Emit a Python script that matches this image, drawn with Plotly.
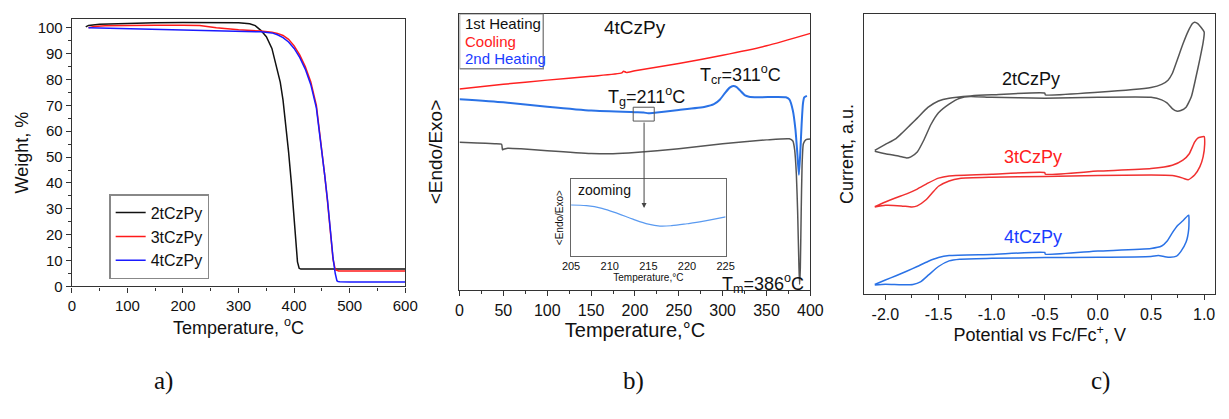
import plotly.graph_objects as go

W, H = 1229, 419
FONT = "Liberation Sans, Arial, sans-serif"


def fx(x):
    return x / W


def fy(y):
    return 1 - y / H


# ---------------- a) TGA ----------------
tga_2t_T = [25, 30, 50, 100, 150, 200, 250, 300, 320, 330, 340, 350, 360, 367, 375, 380, 385,
            390, 395, 400, 403, 406, 409, 412, 420, 450, 500, 550, 600]
tga_2t_W = [100.3, 100.9, 101.3, 101.7, 101.9, 102.0, 102.0, 101.9, 101.5, 100.8, 99.0, 96.5,
            92.0, 85.5, 79.0, 72.0, 63.0, 52.0, 40.0, 26.0, 17.0, 9.5, 7.0, 6.7, 6.7, 6.7, 6.7,
            6.7, 6.7]

tga_3t_T = [30, 40, 60, 100, 150, 200, 230, 260, 300, 340, 360, 370, 380, 390, 400, 410, 420,
            430, 440, 445, 450, 455, 460, 465, 470, 474, 477, 480, 500, 550, 600]
tga_3t_W = [100.0, 100.5, 100.8, 101.0, 101.0, 101.0, 100.9, 100.0, 99.2, 98.7, 98.3, 97.8,
            97.0, 95.5, 93.0, 89.5, 85.0, 79.0, 70.0, 61.0, 52.5, 43.0, 33.0, 21.0, 10.5, 6.5,
            6.1, 6.0, 6.0, 6.0, 6.0]

tga_4t_T = [30, 50, 100, 150, 200, 250, 300, 340, 360, 370, 380, 390, 400, 410, 420, 430, 440,
            445, 450, 455, 460, 465, 470, 474, 477, 479, 482, 500, 550, 600]
tga_4t_W = [100.0, 99.9, 99.6, 99.3, 99.0, 98.8, 98.6, 98.4, 98.0, 97.3, 96.2, 94.5, 92.0,
            88.5, 84.0, 78.0, 69.0, 61.0, 52.5, 43.0, 33.5, 22.0, 11.0, 5.0, 2.2, 1.9, 1.8,
            1.7, 1.7, 1.7]

# ---------------- b) DSC (4tCzPy) ----------------
dsc_heat1_T = [0, 20, 40, 48, 49, 50, 55, 70, 100, 150, 175, 200, 250, 300, 350, 376, 380,
               382, 384, 385.5, 387, 387.7, 388.5, 389.5, 390.5, 392, 395, 400]
dsc_heat1_v = [53.5, 53.3, 53.0, 52.8, 50.8, 51.0, 51.4, 51.2, 50.5, 49.5, 49.4, 49.8, 51.2,
               53.0, 54.4, 54.8, 54.0, 51.0, 42.0, 28.0, 8.0, 2.2, 8.0, 28.0, 45.0, 53.0, 54.5,
               54.7]

dsc_cool_T = [0, 50, 100, 150, 185, 187, 190, 200, 250, 300, 350, 400]
dsc_cool_v = [72.8, 74.5, 76.0, 77.4, 78.6, 79.2, 78.8, 79.4, 82.0, 85.0, 88.4, 92.9]

dsc_heat2_T = [0, 50, 100, 150, 200, 210, 215, 220, 250, 280, 290, 297, 303, 308, 312, 316,
               320, 325, 330, 340, 360, 372, 376, 380, 383, 385, 386.9, 388.5, 390, 391.5,
               393, 396]
dsc_heat2_v = [69.1, 68.0, 66.4, 65.0, 64.4, 64.3, 64.0, 64.1, 65.2, 66.4, 67.3, 69.0, 71.5,
               73.3, 73.9, 73.5, 72.2, 70.6, 70.0, 69.8, 69.9, 69.8, 69.0, 65.0, 58.0, 50.0,
               41.8, 50.0, 60.0, 67.5, 69.8, 70.3]

# inset: 2nd heating around the glass transition
zoom_T = [205, 207, 209, 211, 213, 215, 216.5, 218, 220, 222, 225]
zoom_v = [0.664, 0.655, 0.620, 0.555, 0.480, 0.415, 0.390, 0.395, 0.420, 0.450, 0.510]

# ---------------- c) CV ----------------
cv_2t_E = [-2.1, -2.0, -1.9, -1.84, -1.77, -1.7, -1.6, -1.5, -1.4, -1.2, -1.0, -0.5, -0.495,
           0.0, 0.5, 0.6, 0.66, 0.70, 0.75, 0.80, 0.85, 0.89, 0.91, 0.94, 1.0,
           0.99, 0.96, 0.92, 0.88, 0.83, 0.78, 0.74, 0.70, 0.65, 0.60, 0.50, 0.0, -0.5, -1.0,
           -1.2, -1.3, -1.4, -1.5, -1.57, -1.64, -1.70, -1.76, -1.80, -1.87, -2.0, -2.1]
cv_2t_I = [51.3, 53.4, 55.5, 57.6, 60.2, 62.8, 66.6, 68.9, 69.9, 70.7, 71.1, 71.7, 71.1,
           72.0, 73.7, 74.8, 76.3, 78.7, 83.9, 89.2, 93.8, 96.5, 97.0, 96.5, 93.5,
           89.7, 83.9, 76.9, 70.5, 66.7, 65.5, 65.3, 66.2, 68.2, 69.3, 70.2, 70.2, 69.9, 70.2,
           70.5, 69.9, 67.8, 64.7, 60.6, 54.8, 50.7, 49.0, 48.6, 49.2, 50.1, 51.0]

cv_3t_E = [-2.1, -2.0, -1.9, -1.8, -1.7, -1.6, -1.5, -1.4, -1.0, -0.5, -0.495, 0.0, 0.5, 0.70,
           0.80, 0.86, 0.91, 0.94, 1.0,
           1.005, 0.99, 0.96, 0.91, 0.85, 0.80, 0.70, 0.5, 0.0, -0.5, -1.0, -1.3, -1.4, -1.5,
           -1.56, -1.62, -1.70, -1.75, -1.85, -2.0, -2.1]
cv_3t_I = [31.2, 32.9, 34.4, 35.8, 37.5, 39.6, 41.4, 42.2, 42.8, 43.4, 42.8, 43.9, 44.8, 46.0,
           47.8, 50.1, 54.2, 55.7, 56.2,
           53.6, 49.0, 45.5, 42.5, 40.8, 41.4, 42.3, 42.5, 42.3, 42.0, 41.7, 41.3, 40.4, 38.5,
           36.1, 33.6, 31.5, 31.1, 31.5, 31.7, 31.1]

cv_4t_E = [-2.1, -2.0, -1.9, -1.8, -1.7, -1.6, -1.5, -1.4, -1.0, -0.5, -0.495, 0.0, 0.5, 0.6,
           0.65, 0.70, 0.75, 0.80, 0.845, 0.855,
           0.855, 0.83, 0.78, 0.74, 0.68, 0.63, 0.57, 0.5, 0.0, -0.5, -1.0, -1.3, -1.4, -1.5,
           -1.59, -1.67, -1.74, -1.85, -2.0, -2.1]
cv_4t_I = [3.5, 5.1, 6.6, 8.2, 9.9, 11.7, 13.1, 13.8, 14.2, 14.9, 14.3, 15.4, 16.3, 17.2,
           18.9, 21.9, 24.5, 26.2, 28.0, 28.2,
           23.3, 18.6, 15.2, 13.6, 13.2, 13.4, 13.8, 13.5, 13.2, 13.1, 12.8, 12.5, 11.9, 9.9,
           7.0, 4.4, 3.5, 3.4, 3.6, 3.3]

E_ticks = [-2.0, -1.5, -1.0, -0.5, 0.0, 0.5, 1.0]
E_labels = ["-2.0", "-1.5", "-1.0", "-0.5", "0.0", "0.5", "1.0"]

fig = go.Figure()

# a) TGA curves
fig.add_trace(go.Scatter(x=tga_2t_T, y=tga_2t_W, mode="lines", name="2tCzPy",
                         line=dict(color="#111111", width=1.5), xaxis="x", yaxis="y"))
fig.add_trace(go.Scatter(x=tga_3t_T, y=tga_3t_W, mode="lines", name="3tCzPy",
                         line=dict(color="#ff1a1a", width=1.5), xaxis="x", yaxis="y"))
fig.add_trace(go.Scatter(x=tga_4t_T, y=tga_4t_W, mode="lines", name="4tCzPy",
                         line=dict(color="#1a1aff", width=1.5), xaxis="x", yaxis="y"))

# b) DSC curves
fig.add_trace(go.Scatter(x=dsc_cool_T, y=dsc_cool_v, mode="lines", showlegend=False,
                         line=dict(color="#ff2020", width=1.5, shape="spline", smoothing=0.6),
                         xaxis="x2", yaxis="y2"))
fig.add_trace(go.Scatter(x=dsc_heat1_T, y=dsc_heat1_v, mode="lines", showlegend=False,
                         line=dict(color="#555555", width=1.5, shape="spline", smoothing=0.5),
                         xaxis="x2", yaxis="y2"))
fig.add_trace(go.Scatter(x=dsc_heat2_T, y=dsc_heat2_v, mode="lines", showlegend=False,
                         line=dict(color="#2a72e6", width=2, shape="spline", smoothing=0.5),
                         xaxis="x2", yaxis="y2"))
fig.add_trace(go.Scatter(x=zoom_T, y=zoom_v, mode="lines", showlegend=False,
                         line=dict(color="#5a9af0", width=1.2, shape="spline"),
                         xaxis="x4", yaxis="y4"))

# c) CV loops
fig.add_trace(go.Scatter(x=cv_2t_E, y=cv_2t_I, mode="lines", showlegend=False,
                         line=dict(color="#555555", width=1.5, shape="spline", smoothing=0.5),
                         xaxis="x3", yaxis="y3"))
fig.add_trace(go.Scatter(x=cv_3t_E, y=cv_3t_I, mode="lines", showlegend=False,
                         line=dict(color="#f03030", width=1.5, shape="spline", smoothing=0.5),
                         xaxis="x3", yaxis="y3"))
fig.add_trace(go.Scatter(x=cv_4t_E, y=cv_4t_I, mode="lines", showlegend=False,
                         line=dict(color="#2a72e6", width=1.5, shape="spline", smoothing=0.5),
                         xaxis="x3", yaxis="y3"))

frame = dict(showline=True, mirror=True, linecolor="#333333", linewidth=1.3,
             showgrid=False, zeroline=False)
tickfont = lambda s: dict(family=FONT, size=s, color="#111111")

fig.update_layout(
    width=W, height=H,
    margin=dict(l=0, r=0, t=0, b=0),
    paper_bgcolor="white", plot_bgcolor="white",
    font=dict(family=FONT, color="#111111"),
    showlegend=True,
    legend=dict(x=fx(102), y=fy(198), xanchor="left", yanchor="top",
                bordercolor="#888888", borderwidth=1.5, bgcolor="white",
                font=dict(family=FONT, size=16, color="#111111"),
                tracegroupgap=0, itemwidth=30),
    xaxis=dict(frame, domain=[fx(64), fx(403.5)], range=[0, 600], anchor="y",
               tickvals=[0, 100, 200, 300, 400, 500, 600], ticks="outside", ticklen=5,
               tickcolor="#333333", minor=dict(dtick=50, ticks="outside", ticklen=3,
                                               tickcolor="#333333"),
               tickfont=tickfont(15),
               title=dict(text="Temperature, <sup>o</sup>C", font=dict(family=FONT, size=18),
                          standoff=8)),
    yaxis=dict(frame, domain=[fy(292), fy(19.3)], range=[0, 103.4], anchor="x",
               tickvals=list(range(0, 101, 10)), ticks="outside", ticklen=5,
               tickcolor="#333333", minor=dict(dtick=5, ticks="outside", ticklen=3,
                                              tickcolor="#333333"),
               tickfont=tickfont(15),
               title=dict(text="Weight, %", font=dict(family=FONT, size=18), standoff=4)),
    xaxis2=dict(frame, domain=[fx(458.7), fx(816)], range=[0, 400], anchor="y2",
                tickvals=list(range(0, 401, 50)), ticks="outside", ticklen=5,
                tickcolor="#333333", minor=dict(dtick=25, ticks="outside", ticklen=3,
                                                tickcolor="#333333"),
                tickfont=tickfont(16),
                title=dict(text="Temperature,°C", font=dict(family=FONT, size=20),
                           standoff=2)),
    yaxis2=dict(frame, domain=[fy(296), fy(14)], range=[0, 100], anchor="x2",
                showticklabels=False, ticks="",
                title=dict(text="&lt;Endo/Exo&gt;", font=dict(family=FONT, size=19),
                           standoff=10)),
    xaxis3=dict(frame, domain=[fx(870.7), fx(1228.3)], range=[-2.2, 1.105], anchor="y3",
                tickvals=E_ticks, ticktext=E_labels, ticks="outside", ticklen=5,
                tickcolor="#333333", minor=dict(dtick=0.25, ticks="outside", ticklen=3,
                                                tickcolor="#333333"),
                tickfont=tickfont(16),
                title=dict(text="Potential vs Fc/Fc<sup>+</sup>, V",
                           font=dict(family=FONT, size=18), standoff=4)),
    yaxis3=dict(frame, domain=[fy(300), fy(14)], range=[0, 100], anchor="x3",
                showticklabels=False, ticks="",
                title=dict(text="Current, a.u.", font=dict(family=FONT, size=18),
                           standoff=4)),
    xaxis4=dict(frame, domain=[fx(572.3), fx(729.7)], range=[205, 225], anchor="y4",
                linecolor="#666666", linewidth=1,
                tickvals=[205, 210, 215, 220, 225], ticks="", tickfont=tickfont(11),
                title=dict(text="Temperature,°C", font=dict(family=FONT, size=10),
                           standoff=2)),
    yaxis4=dict(frame, domain=[fy(261), fy(182.7)], range=[0, 1], anchor="x4",
                linecolor="#666666", linewidth=1,
                showticklabels=False, ticks="",
                title=dict(text="&lt;Endo/Exo&gt;", font=dict(family=FONT, size=10),
                           standoff=4)),
)

# DSC labels box
fig.add_shape(type="rect", xref="x2", yref="y2", x0=0, x1=95.5, y0=80.1, y1=100,
              line=dict(color="#888888", width=1.5), fillcolor="rgba(0,0,0,0)")
for txt, yv, col in [("1st Heating", 96.5, "#111111"), ("Cooling", 90.1, "#ff2020"),
                     ("2nd Heating", 83.7, "#1a3cff")]:
    fig.add_annotation(x=3.7, y=yv, xref="x2", yref="y2", text=txt, showarrow=False,
                       xanchor="left", yanchor="middle",
                       font=dict(family=FONT, size=15, color=col))

# Tg region marker and arrow to the inset
fig.add_shape(type="rect", xref="x2", yref="y2", x0=198, x1=222, y0=61.2, y1=66.2,
              line=dict(color="#555555", width=1))
fig.add_annotation(x=210.4, y=29.8, ax=210.4, ay=61.2, xref="x2", yref="y2",
                   axref="x2", ayref="y2", text="", showarrow=True, arrowhead=2,
                   arrowsize=1, arrowwidth=1, arrowcolor="#444444")

dsc_notes = [("4tCzPy", 200, 94.9, 19),
             ("T<sub>cr</sub>=311<sup>o</sup>C", 320, 78.0, 18),
             ("T<sub>g</sub>=211<sup>o</sup>C", 213, 70.1, 18),
             ("T<sub>m</sub>=386<sup>o</sup>C", 346.5, 2.6, 18)]
for txt, xv, yv, s in dsc_notes:
    fig.add_annotation(x=xv, y=yv, xref="x2", yref="y2", text=txt, showarrow=False,
                       font=dict(family=FONT, size=s, color="#111111"))

fig.add_annotation(x=205.6, y=0.856, xref="x4", yref="y4", text="zooming", showarrow=False,
                   xanchor="left", font=dict(family=FONT, size=14, color="#111111"))

# CV compound labels
for txt, xv, yv, col in [("2tCzPy", -0.634, 76.9, "#111111"), ("3tCzPy", -0.615, 49.0, "#ff2020"),
                         ("4tCzPy", -0.615, 20.4, "#1a3cff")]:
    fig.add_annotation(x=xv, y=yv, xref="x3", yref="y3", text=txt, showarrow=False,
                       font=dict(family=FONT, size=18, color=col))

# panel letters
for txt, xp in [("a)", 146), ("b)", 636), ("c)", 1123)]:
    fig.add_annotation(x=fx(xp), y=fy(405), xref="paper", yref="paper", text=txt,
                       showarrow=False,
                       font=dict(family="Liberation Serif, Times New Roman, serif", size=25,
                                 color="#111111"))

fig.write_html("out.html")
